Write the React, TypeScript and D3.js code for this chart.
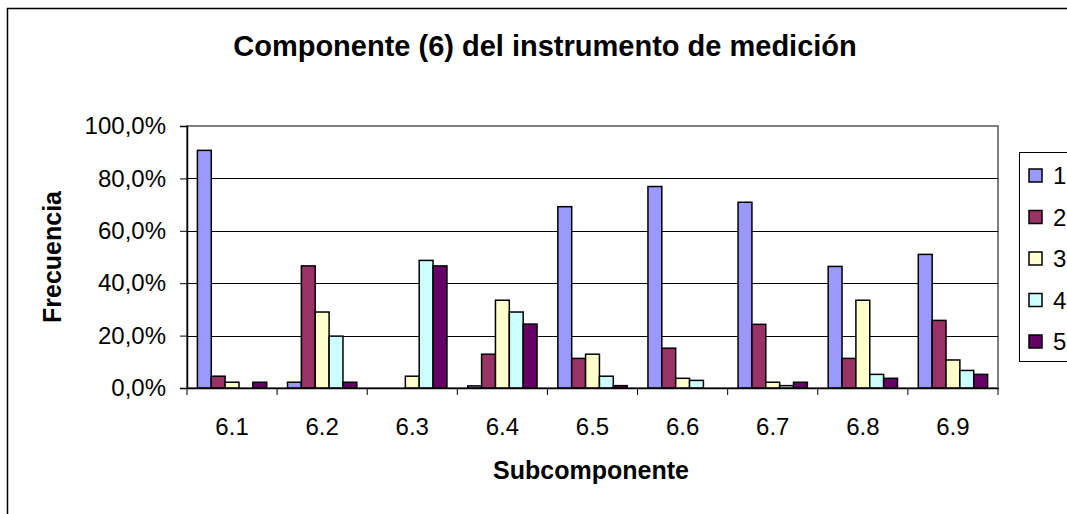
import React, { useRef, useEffect } from 'react'
import * as d3 from 'd3'

// Componente (6) — frecuencia de respuestas por subcomponente
const categories = ['6.1', '6.2', '6.3', '6.4', '6.5', '6.6', '6.7', '6.8', '6.9']
const seriesNames = ['1', '2', '3', '4', '5']
const s1 = [90.7, 2.2, 0, 0.8, 69.2, 76.9, 70.9, 46.4, 51.0]
const s2 = [4.5, 46.6, 0, 12.9, 11.3, 15.2, 24.3, 11.3, 25.8]
const s3 = [2.2, 29.0, 4.5, 33.5, 12.9, 3.7, 2.2, 33.5, 10.7]
const s4 = [0, 19.8, 48.7, 29.0, 4.5, 2.9, 0.9, 5.2, 6.7]
const s5 = [2.2, 2.2, 46.6, 24.4, 0.9, 0, 2.2, 3.7, 5.2]
const yTicks = [0, 20, 40, 60, 80, 100]
const colors = ['#9999FF', '#993366', '#FFFFCC', '#CCFFFF', '#660066']

const FONT = '"Liberation Sans", Arial, sans-serif'

export default function App() {
  const svgRef = useRef<SVGSVGElement>(null)

  useEffect(() => {
    const svg = d3.select(svgRef.current)
    svg.selectAll('*').remove()

    const width = 1067
    const height = 514
    const plot = { left: 187, top: 126, right: 998, bottom: 388 }
    const series = [s1, s2, s3, s4, s5]

    svg.append('rect').attr('width', width).attr('height', height).attr('fill', '#fff')
    // cadre extérieur du graphique
    svg.append('rect')
      .attr('x', 7.5).attr('y', 8.5).attr('width', 1100).attr('height', 600)
      .attr('fill', 'none').attr('stroke', '#000').attr('stroke-width', 1.5)

    const x0 = d3.scaleBand().domain(categories).range([plot.left, plot.right]).paddingInner(0).paddingOuter(0)
    const bw = x0.bandwidth() / (seriesNames.length + 1.5)
    const x1 = d3.scaleBand().domain(seriesNames)
      .range([bw * 0.75, bw * 0.75 + bw * seriesNames.length]).padding(0)
    const y = d3.scaleLinear().domain([0, 100]).range([plot.bottom, plot.top])

    // zone de tracé
    svg.append('rect')
      .attr('x', plot.left).attr('y', plot.top)
      .attr('width', plot.right - plot.left).attr('height', plot.bottom - plot.top)
      .attr('fill', '#fff').attr('stroke', '#808080').attr('stroke-width', 2)

    // quadrillage
    svg.append('g')
      .selectAll('line')
      .data(yTicks.filter((t) => t > 0 && t < 100))
      .join('line')
      .attr('x1', plot.left).attr('x2', plot.right)
      .attr('y1', (d) => Math.round(y(d)) + 0.5).attr('y2', (d) => Math.round(y(d)) + 0.5)
      .attr('stroke', '#000').attr('stroke-width', 1)

    // barres
    const groups = svg.append('g')
      .selectAll('g')
      .data(categories)
      .join('g')
      .attr('transform', (d) => `translate(${x0(d)},0)`)
    groups.selectAll('rect')
      .data((_, i) => series.map((s, k) => ({ key: seriesNames[k], v: s[i], k })))
      .join('rect')
      .filter((d) => d.v > 0)
      .attr('x', (d) => x1(d.key)!)
      .attr('y', (d) => y(d.v))
      .attr('width', x1.bandwidth())
      .attr('height', (d) => y(0) - y(d.v))
      .attr('fill', (d) => colors[d.k])
      .attr('stroke', '#000').attr('stroke-width', 1.5)

    // axe Y
    svg.append('g')
      .attr('transform', `translate(${plot.left},0)`)
      .call(d3.axisLeft(y).tickValues(yTicks).tickSize(7).tickPadding(14)
        .tickFormat((d) => `${(d as number).toFixed(1).replace('.', ',')}%`))
      .call((g) => g.select('.domain').attr('stroke', '#000').attr('stroke-width', 1.5))
      .call((g) => g.selectAll('.tick line').attr('stroke', '#000'))
      .call((g) => g.selectAll('.tick text').attr('fill', '#000')
        .style('font-size', '24px').style('font-family', FONT))

    // axe X
    svg.append('g')
      .attr('transform', `translate(0,${plot.bottom})`)
      .call(d3.axisBottom(x0).tickSize(0).tickPadding(30))
      .call((g) => g.select('.domain').attr('stroke', '#000').attr('stroke-width', 1.5))
      .call((g) => g.selectAll('.tick text').attr('fill', '#000')
        .style('font-size', '24px').style('font-family', FONT))
    svg.append('g')
      .selectAll('line')
      .data(categories.concat(['end']))
      .join('line')
      .attr('x1', (d) => (d === 'end' ? plot.right : x0(d)!))
      .attr('x2', (d) => (d === 'end' ? plot.right : x0(d)!))
      .attr('y1', plot.bottom).attr('y2', plot.bottom + 7)
      .attr('stroke', '#000')

    // titres
    svg.append('text')
      .attr('x', 545).attr('y', 56)
      .attr('text-anchor', 'middle')
      .style('font-family', FONT).style('font-size', '29px').style('font-weight', 'bold')
      .text('Componente (6) del instrumento de medición')
    svg.append('text')
      .attr('x', 591).attr('y', 479)
      .attr('text-anchor', 'middle')
      .style('font-family', FONT).style('font-size', '25px').style('font-weight', 'bold')
      .text('Subcomponente')
    svg.append('text')
      .attr('transform', 'translate(61,257) rotate(-90)')
      .attr('text-anchor', 'middle')
      .style('font-family', FONT).style('font-size', '25px').style('font-weight', 'bold')
      .text('Frecuencia')

    // légende
    const legend = svg.append('g').attr('transform', 'translate(1019,152)')
    legend.append('rect')
      .attr('x', 0.5).attr('y', 0.5).attr('width', 100).attr('height', 209)
      .attr('fill', '#fff').attr('stroke', '#000').attr('stroke-width', 1)
    const item = legend.selectAll('g.item')
      .data(seriesNames)
      .join('g')
      .attr('class', 'item')
      .attr('transform', (_, i) => `translate(0,${23.5 + i * 41.5})`)
    item.append('rect')
      .attr('x', 10).attr('y', -6.5).attr('width', 13).attr('height', 13)
      .attr('fill', (_, i) => colors[i]).attr('stroke', '#000').attr('stroke-width', 1.5)
    item.append('text')
      .attr('x', 34).attr('y', 8.5)
      .style('font-family', FONT).style('font-size', '24px')
      .text((d) => d)
  }, [])

  return (
    <div style={{ position: 'absolute', left: 0, top: 0 }}>
      <svg ref={svgRef} width={1067} height={514} style={{ display: 'block' }} />
    </div>
  )
}
